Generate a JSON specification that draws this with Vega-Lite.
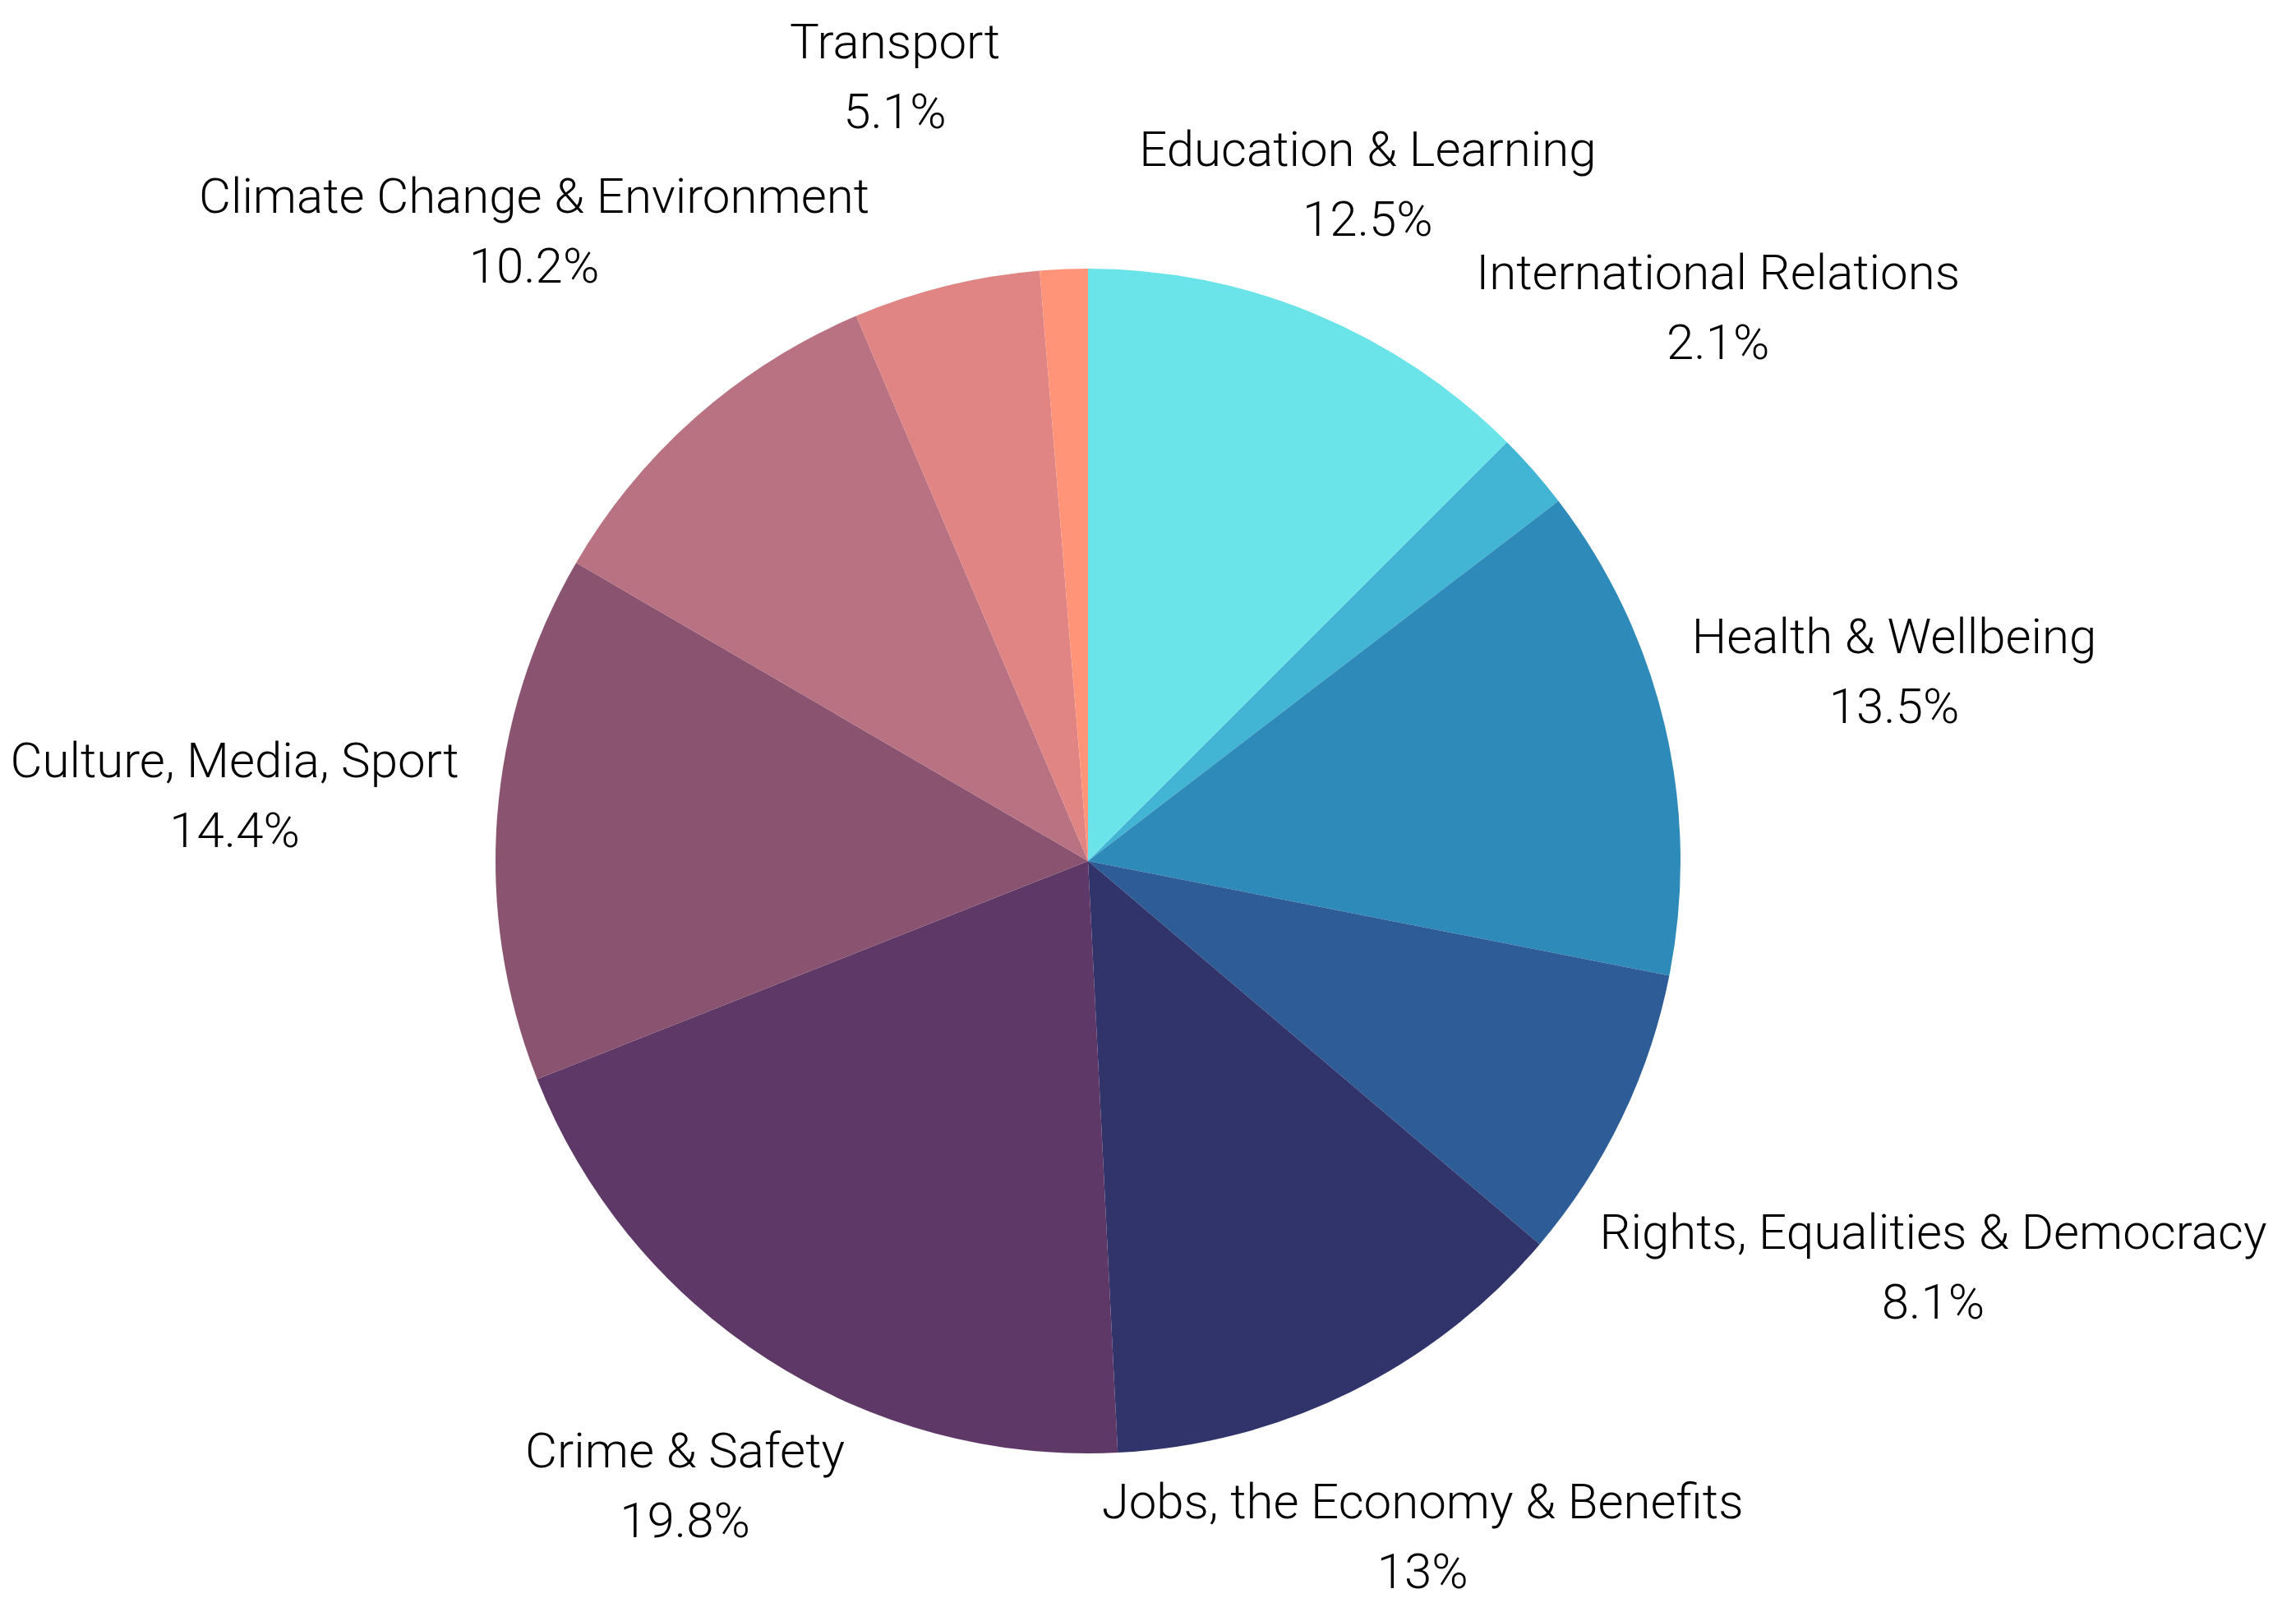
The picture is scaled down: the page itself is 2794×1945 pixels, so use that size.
{
  "$schema": "https://vega.github.io/schema/vega-lite/v6.json",
  "width": 2648,
  "height": 1794,
  "autosize": {"type": "none"},
  "padding": {"left": 0, "top": 151, "right": 146, "bottom": 0},
  "background": "white",
  "config": {"view": {"stroke": null}},
  "data": {"values": [
    {"topic": "Education & Learning", "share": 12.5},
    {"topic": "International Relations", "share": 2.1},
    {"topic": "Health & Wellbeing", "share": 13.5},
    {"topic": "Rights, Equalities & Democracy", "share": 8.1},
    {"topic": "Jobs, the Economy & Benefits", "share": 13},
    {"topic": "Crime & Safety", "share": 19.8},
    {"topic": "Culture, Media, Sport", "share": 14.4},
    {"topic": "Climate Change & Environment", "share": 10.2},
    {"topic": "Transport", "share": 5.1},
    {"topic": "Other", "share": 1.3}
  ]},
  "transform": [
    {"window": [{"op": "row_number", "as": "i"}]},
    {"joinaggregate": [{"op": "sum", "field": "share", "as": "tot"}]},
    {"window": [{"op": "sum", "field": "share", "as": "cum"}], "sort": [{"field": "i"}], "frame": [null, 0]},
    {"calculate": "2*PI*(datum.cum - datum.share/2)/datum.tot", "as": "mid"},
    {"calculate": "datum.topic == 'Other' ? '' : datum.topic + '\\n' + datum.share + '%'", "as": "label"},
    {"calculate": "max(length(datum.topic), 6) * 13.5", "as": "w"},
    {"calculate": "abs(sin(datum.mid))", "as": "s"},
    {"calculate": "abs(cos(datum.mid))", "as": "c"},
    {"calculate": "datum.w*datum.s + 70*datum.c", "as": "b"},
    {"calculate": "datum.b + sqrt(datum.b*datum.b - datum.w*datum.w - 4900 + 755*755)", "as": "d1"},
    {"calculate": "datum.d1*datum.s < datum.w ? (70+755)/datum.c : (datum.d1*datum.c < 70 ? (datum.w+755)/datum.s : datum.d1)", "as": "d0"},
    {"calculate": "-datum.d0*cos(datum.mid)", "as": "yc"},
    {"window": [{"op": "lag", "field": "yc", "as": "prevyc"}, {"op": "lag", "field": "mid", "as": "prevmid"}], "sort": [{"field": "i"}]},
    {"calculate": "(datum.mid > 1.5*PI && datum.prevmid > 1.5*PI && datum.yc > datum.prevyc - 188) ? (datum.prevyc - 188) / (-cos(datum.mid)) : datum.d0", "as": "d"}
  ],
  "layer": [
    {
      "mark": {"type": "arc", "outerRadius": 721},
      "encoding": {
        "theta": {"field": "share", "type": "quantitative", "stack": true},
        "order": {"field": "i", "type": "quantitative"},
        "color": {
          "field": "topic",
          "type": "nominal",
          "scale": {
            "domain": ["Education & Learning", "International Relations", "Health & Wellbeing", "Rights, Equalities & Democracy", "Jobs, the Economy & Benefits", "Crime & Safety", "Culture, Media, Sport", "Climate Change & Environment", "Transport", "Other"],
            "range": ["#6ae4e8", "#42b4d4", "#2e8ab8", "#2e5c96", "#31346b", "#5e3866", "#8a5470", "#b87282", "#e08484", "#ff9478"]
          },
          "legend": null
        }
      }
    },
    {
      "mark": {"type": "text", "font": "Roboto", "fontSize": 60, "fontWeight": 300, "lineHeight": 85, "lineBreak": "\n", "align": "center", "baseline": "middle", "dy": -42, "color": "#000000"},
      "encoding": {
        "text": {"field": "label", "type": "nominal"},
        "theta": {"field": "mid", "type": "quantitative", "scale": null, "stack": null},
        "radius": {"field": "d", "type": "quantitative", "scale": null}
      }
    }
  ]
}
